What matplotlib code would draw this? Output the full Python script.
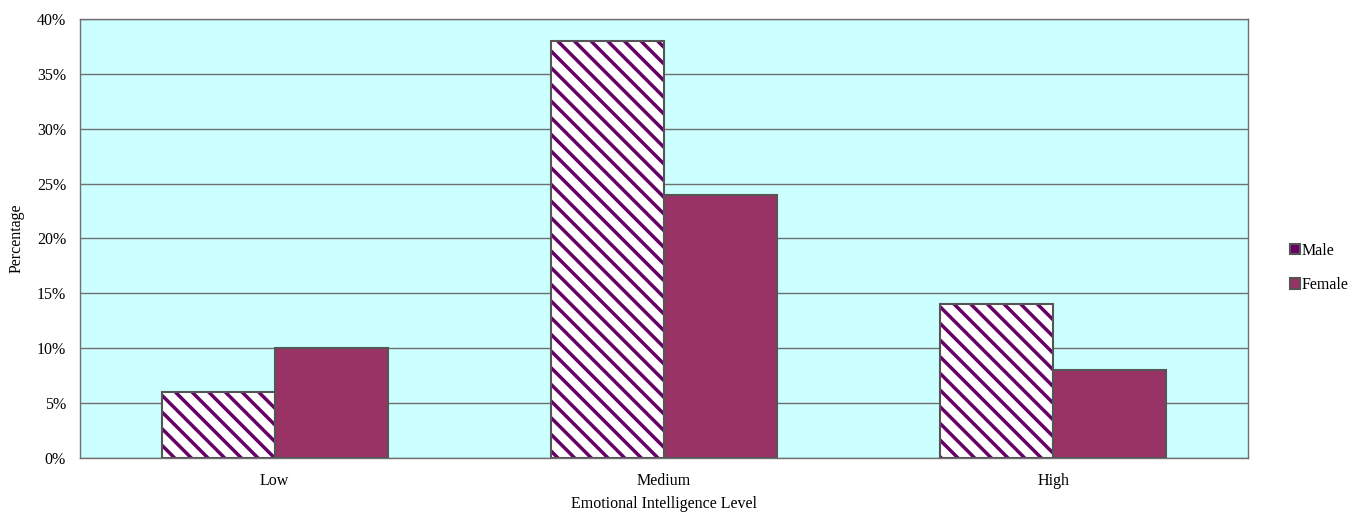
import numpy as np
import matplotlib
matplotlib.use("Agg")
import matplotlib.pyplot as plt
from matplotlib.patches import Patch
from matplotlib.legend_handler import HandlerTuple

plt.rcParams["font.family"] = ["Liberation Serif", "DejaVu Serif"]
plt.rcParams["hatch.linewidth"] = 2.5

levels = ["Low", "Medium", "High"]
male = [6, 38, 14]
female = [10, 24, 8]
yticks = [0, 5, 10, 15, 20, 25, 30, 35, 40]

purple = "#660066"
plum = "#993366"
edge = "#555555"

fig = plt.figure(figsize=(13.62, 5.12), dpi=100)
ax = fig.add_axes([80 / 1362, 1 - 458 / 512, 1168 / 1362, 439 / 512])
ax.set_facecolor("#CCFFFF")

x = np.arange(len(levels))
w = 0.29
# hatch colour follows the edge colour, so draw the stripes and the outline separately
ax.bar(x - w / 2, male, w, facecolor="white", edgecolor=purple, hatch="\\\\",
       linewidth=0, zorder=3)
ax.bar(x - w / 2, male, w, facecolor="none", edgecolor=edge,
       linewidth=1.5, zorder=4)
ax.bar(x + w / 2, female, w, facecolor=plum, edgecolor=edge,
       linewidth=1.5, zorder=3)

ax.set_xlim(-0.5, 2.5)
ax.set_ylim(0, 40)
ax.set_yticks(yticks)
ax.set_yticklabels([f"{t}%" for t in yticks], fontsize=11.5)
ax.set_xticks(x)
ax.set_xticklabels(levels, fontsize=11.5)
ax.tick_params(axis="y", length=0, pad=10)
ax.tick_params(axis="x", length=0, pad=11)
ax.grid(axis="y", color="#707070", linewidth=1, zorder=1)
for s in ax.spines.values():
    s.set_color("#707070")
    s.set_linewidth(1)

ax.set_ylabel("Percentage", fontsize=11.5, labelpad=9)
ax.set_xlabel("Emotional Intelligence Level", fontsize=11.5, labelpad=5)

male_handle = (Patch(facecolor=purple, edgecolor="none", linewidth=0),
               Patch(facecolor="none", edgecolor=edge, linewidth=1.5))
female_handle = Patch(facecolor=plum, edgecolor=edge, linewidth=1.5)
fig.legend([male_handle, female_handle], ["Male", "Female"], loc="center left",
           bbox_to_anchor=(1276 / 1362, 1 - 268 / 512), frameon=False,
           fontsize=11.5, handlelength=0.6, handleheight=0.6,
           handletextpad=0.1, labelspacing=1.15,
           handler_map={tuple: HandlerTuple(ndivide=1, pad=0)})

fig.savefig("out.png", dpi=100)
